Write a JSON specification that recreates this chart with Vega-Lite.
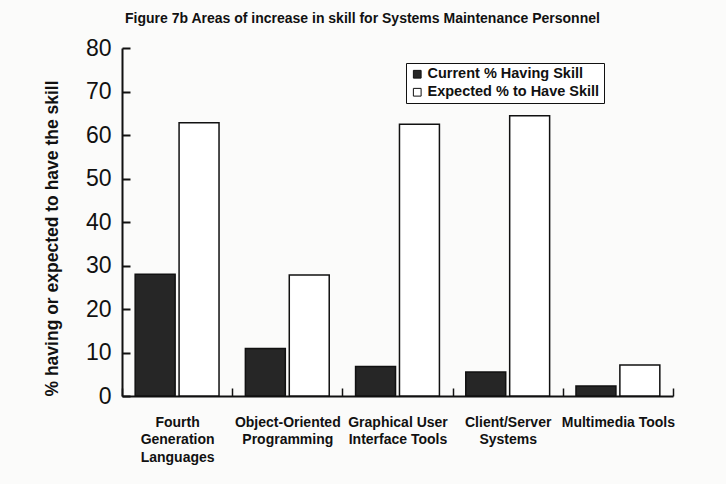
{
  "$schema": "https://vega.github.io/schema/vega-lite/v6.json",
  "width": 551,
  "height": 348,
  "autosize": {"type": "none"},
  "padding": {"left": 122, "top": 48, "right": 53, "bottom": 88},
  "background": "#fbfbfa",
  "title": {
    "text": "Figure 7b Areas of increase in skill for Systems Maintenance Personnel",
    "anchor": "start",
    "frame": "group",
    "font": "Liberation Sans",
    "fontSize": 14,
    "fontWeight": "bold",
    "color": "#111111",
    "offset": 11,
    "dx": 3
  },
  "data": {
    "values": [
      {"area": "Fourth Generation Languages", "measure": "Current % Having Skill", "percent": 28},
      {"area": "Fourth Generation Languages", "measure": "Expected % to Have Skill", "percent": 62.8},
      {"area": "Object-Oriented Programming", "measure": "Current % Having Skill", "percent": 10.9},
      {"area": "Object-Oriented Programming", "measure": "Expected % to Have Skill", "percent": 27.8},
      {"area": "Graphical User Interface Tools", "measure": "Current % Having Skill", "percent": 6.8},
      {"area": "Graphical User Interface Tools", "measure": "Expected % to Have Skill", "percent": 62.5},
      {"area": "Client/Server Systems", "measure": "Current % Having Skill", "percent": 5.5},
      {"area": "Client/Server Systems", "measure": "Expected % to Have Skill", "percent": 64.4},
      {"area": "Multimedia Tools", "measure": "Current % Having Skill", "percent": 2.3},
      {"area": "Multimedia Tools", "measure": "Expected % to Have Skill", "percent": 7.1}
    ]
  },
  "mark": {"type": "bar", "stroke": "#111111", "strokeWidth": 1.5},
  "encoding": {
    "x": {
      "field": "area",
      "type": "nominal",
      "sort": ["Fourth Generation Languages", "Object-Oriented Programming", "Graphical User Interface Tools", "Client/Server Systems", "Multimedia Tools"],
      "scale": {"paddingInner": 0, "paddingOuter": 0},
      "axis": {
        "title": null,
        "labelAngle": 0,
        "labelFont": "Liberation Sans",
        "labelFontSize": 14,
        "labelFontWeight": "bold",
        "labelColor": "#111111",
        "labelLineHeight": 17.5,
        "labelPadding": 27,
        "tickBand": "extent",
        "tickSize": -8,
        "tickWidth": 1.5,
        "tickColor": "#111111",
        "domainColor": "#111111",
        "domainWidth": 2,
        "labelExpr": "datum.value == 'Fourth Generation Languages' ? ['Fourth','Generation','Languages'] : datum.value == 'Object-Oriented Programming' ? ['Object-Oriented','Programming'] : datum.value == 'Graphical User Interface Tools' ? ['Graphical User','Interface Tools'] : datum.value == 'Client/Server Systems' ? ['Client/Server','Systems'] : datum.value"
      }
    },
    "xOffset": {
      "field": "measure",
      "sort": ["Current % Having Skill", "Expected % to Have Skill"],
      "scale": {"paddingInner": 0.09, "paddingOuter": 0.3}
    },
    "y": {
      "field": "percent",
      "type": "quantitative",
      "scale": {"domain": [0, 80]},
      "axis": {
        "title": "% having or expected to have the skill",
        "titleFont": "Liberation Sans",
        "titleFontSize": 17.5,
        "titleFontWeight": "bold",
        "titleColor": "#111111",
        "titlePadding": 24,
        "titleAnchor": "start",
        "labelFont": "Liberation Sans",
        "labelFontSize": 23,
        "labelColor": "#111111",
        "labelPadding": 19,
        "values": [0, 10, 20, 30, 40, 50, 60, 70, 80],
        "tickSize": -8,
        "tickWidth": 2,
        "tickColor": "#111111",
        "domainColor": "#111111",
        "domainWidth": 2,
        "grid": false
      }
    },
    "fill": {
      "field": "measure",
      "type": "nominal",
      "scale": {"domain": ["Current % Having Skill", "Expected % to Have Skill"], "range": ["#262626", "#ffffff"]},
      "legend": {
        "title": null,
        "orient": "none",
        "legendX": 284,
        "legendY": 15,
        "strokeColor": "#111111",
        "fillColor": "#ffffff",
        "padding": 4,
        "labelFont": "Liberation Sans",
        "labelFontSize": 14.5,
        "labelFontWeight": "bold",
        "labelColor": "#111111",
        "labelOffset": 3,
        "labelLimit": 300,
        "symbolType": "square",
        "symbolSize": 60,
        "symbolStrokeColor": "#111111",
        "symbolStrokeWidth": 1,
        "rowPadding": 3
      }
    }
  },
  "config": {"view": {"stroke": null}, "font": "Liberation Sans"}
}
